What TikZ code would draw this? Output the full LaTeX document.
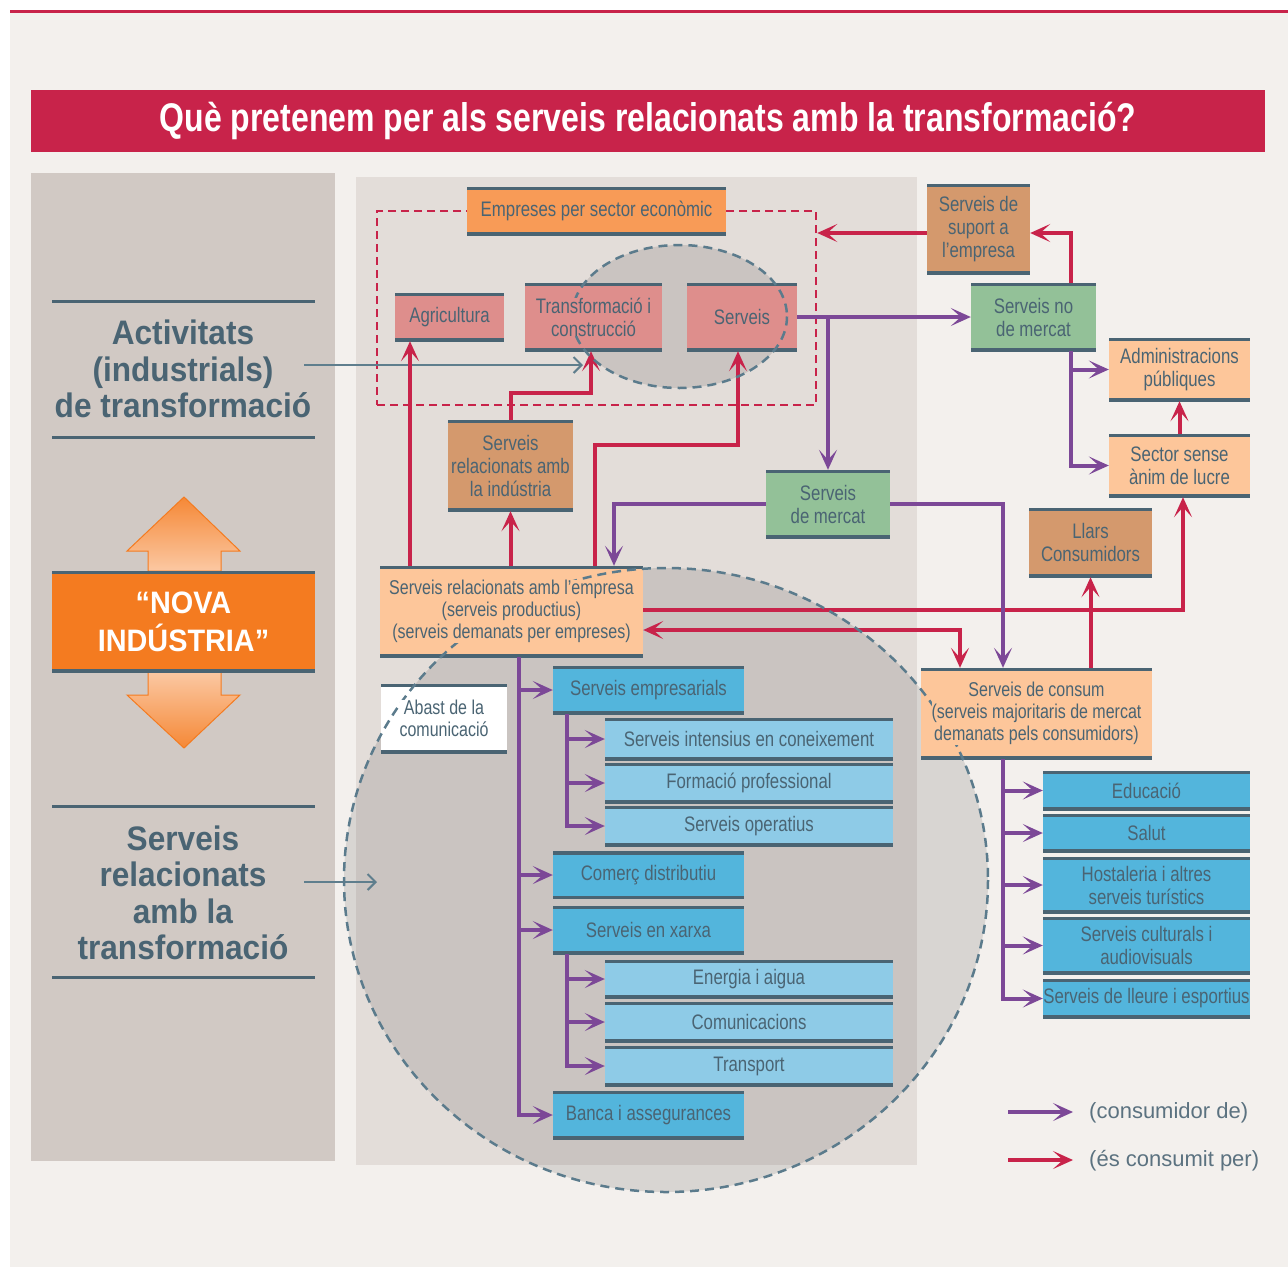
\documentclass[tikz,border=0pt]{standalone}
\usepackage{fontspec}
\setmainfont{Liberation Sans}
\newfontfamily\cond{Liberation Sans}[FakeStretch=0.8]
\newfontfamily\condb{Liberation Sans}[FakeStretch=0.93]
\usetikzlibrary{arrows.meta,calc}
\definecolor{bgc}{HTML}{F3F0ED}
\definecolor{redc}{HTML}{C8234A}
\definecolor{purp}{HTML}{7C4897}
\definecolor{slate}{HTML}{4A6473}
\definecolor{lpanel}{HTML}{D1C9C4}
\definecolor{mpanel}{HTML}{E3DDD9}
\definecolor{tanc}{HTML}{D4996D}
\definecolor{pinkc}{HTML}{DE8E8C}
\definecolor{orc}{HTML}{F89B57}
\definecolor{greenc}{HTML}{93C198}
\definecolor{peach}{HTML}{FDC69A}
\definecolor{bluec}{HTML}{53B5DC}
\definecolor{lblue}{HTML}{8ECBE7}
\definecolor{novac}{HTML}{F47B20}
\definecolor{dashc}{HTML}{5B7B8C}
\definecolor{greyar}{HTML}{5F7E8D}
\definecolor{legt}{HTML}{5B7280}
\tikzset{
  bx/.style={fill=#1, inner sep=0pt, align=center, text=slate,
    font=\cond\fontsize{21}{23}\selectfont,
    path picture={\draw[slate, line width=6pt]
      (path picture bounding box.north west) -- (path picture bounding box.north east)
      (path picture bounding box.south west) -- (path picture bounding box.south east);}},
  tx/.style={fill=#1, inner sep=0pt, align=center, text=slate,
    font=\cond\fontsize{21}{23}\selectfont},
  tip/.style={-{Stealth[length=20pt,width=18pt,inset=10pt]}},
  pu/.style={draw=purp, line width=4pt, tip},
  rd/.style={draw=redc, line width=4pt, tip},
  gra/.style={draw=greyar, line width=2pt, -{Straight Barb[length=8pt,width=16pt,line width=2pt]}},
  circdash/.style={draw=dashc, line width=2.5pt, dash pattern=on 9pt off 6pt},
  lbl/.style={text=slate, align=center, inner sep=0pt, font=\condb\bfseries\fontsize{34}{36.5}\selectfont},
}
\begin{document}
\begin{tikzpicture}[x=1pt,y=-1pt]
\useasboundingbox (0,0) rectangle (1288,1267);
\fill[white] (0,0) rectangle (1288,1267);
\fill[bgc] (10,13) rectangle (1288,1267);
\fill[redc] (10,10) rectangle (1288,13);
% title
\node[fill=redc, minimum width=1234, minimum height=62, inner sep=0pt, text=white,
  font=\cond\bfseries\fontsize{40}{42}\selectfont] (title) at (648,121)
  {Què pretenem per als serveis relacionats amb la transformació?};
% panels
\fill[lpanel] (31,173) rectangle (335,1161);
\fill[mpanel] (356,177) rectangle (917,1165);
% circles (fill)
\fill[black, fill opacity=0.11] (666,880) ellipse [x radius=322, y radius=312];
\fill[black, fill opacity=0.11] (679.5,316.5) ellipse [x radius=107.5, y radius=71.5];
% red dashed frame
\node[draw=redc, line width=2.5pt, dash pattern=on 8pt off 5pt, minimum width=439, minimum height=194, inner sep=0pt] (frame) at (596.5,308) {};

% left panel
\draw[slate, line width=3pt] (52,301) -- (315,301) (52,437) -- (315,437);
\node[lbl] (act) at (183,369) {Activitats\\(industrials)\\de transformació};
\draw[slate, line width=3pt] (52,806) -- (315,806) (52,977) -- (315,977);
\node[lbl] (srt) at (183,893) {Serveis\\relacionats\\amb la\\transformació};
% double arrow
\shade[top color=novac!90, bottom color=orc!55!white, draw=novac, line width=1pt]
  (184,497) -- (240,551) -- (221,551) -- (221,571) -- (148,571) -- (148,551) -- (127,551) -- cycle;
\shade[top color=orc!55!white, bottom color=novac!90, draw=novac, line width=1pt]
  (148,672) -- (221,672) -- (221,695) -- (240,695) -- (184,748) -- (127,695) -- (148,695) -- cycle;
\node[bx=novac, minimum width=263, minimum height=101, text=white,
  font=\condb\bfseries\fontsize{31}{38}\selectfont] (nova) at (183.5,621.5) {“NOVA\\INDÚSTRIA”};

% boxes
\node[bx=orc, minimum width=259, minimum height=48] (emp) at (596.5,211) {Empreses per sector econòmic};
\node[bx=pinkc, minimum width=109, minimum height=48] (agr) at (449.5,317) {Agricultura};
\node[bx=pinkc, minimum width=137, minimum height=68] (tra) at (593.5,317) {};
\node[bx=pinkc, minimum width=110, minimum height=68] (ser) at (742,317) {Serveis};
\node[bx=tanc, minimum width=103, minimum height=90] (sup) at (978.5,229) {Serveis de\\suport a\\l’empresa};
\node[bx=greenc, minimum width=125, minimum height=68] (snm) at (1033.5,317) {Serveis no\\de mercat};
\node[bx=peach, minimum width=141, minimum height=63] (adm) at (1179.5,369.5) {Administracions\\públiques};
\node[bx=peach, minimum width=141, minimum height=63] (ssa) at (1179.5,465.5) {Sector sense\\ànim de lucre};
\node[bx=tanc, minimum width=125, minimum height=91] (sri) at (510.5,465.5) {Serveis\\relacionats amb\\la indústria};
\node[bx=greenc, minimum width=124, minimum height=68] (smc) at (828,504) {Serveis\\de mercat};
\node[bx=tanc, minimum width=123, minimum height=69] (llr) at (1090.5,542.5) {Llars\\Consumidors};
\node[bx=peach, minimum width=263, minimum height=91] (sre) at (511.5,611.5) {};
\node[bx=peach, minimum width=231, minimum height=91] (scn) at (1036.5,713.5) {};
\node[bx=white, minimum width=126, minimum height=69] (abs) at (444,718.5) {};
\node[bx=bluec, minimum width=191, minimum height=48] (semp) at (648.5,690) {Serveis empresarials};
\node[bx=lblue, minimum width=288, minimum height=42] (sic) at (749,739) {Serveis intensius en coneixement};
\node[bx=lblue, minimum width=288, minimum height=40] (sfp) at (749,783) {Formació professional};
\node[bx=lblue, minimum width=288, minimum height=40] (sop) at (749,826) {Serveis operatius};
\node[bx=bluec, minimum width=191, minimum height=47] (com) at (648.5,875) {Comerç distributiu};
\node[bx=bluec, minimum width=191, minimum height=48] (xar) at (648.5,930) {Serveis en xarxa};
\node[bx=lblue, minimum width=288, minimum height=38] (ene) at (749,979) {Energia i aigua};
\node[bx=lblue, minimum width=288, minimum height=40] (cmu) at (749,1022) {Comunicacions};
\node[bx=lblue, minimum width=288, minimum height=40] (trn) at (749,1066) {Transport};
\node[bx=bluec, minimum width=191, minimum height=48] (ban) at (648.5,1115) {Banca i assegurances};
\node[bx=bluec, minimum width=207, minimum height=39] (edu) at (1146.5,790.5) {Educació};
\node[bx=bluec, minimum width=207, minimum height=38] (sal) at (1146.5,833) {Salut};
\node[bx=bluec, minimum width=207, minimum height=56] (hos) at (1146.5,885) {Hostaleria i altres\\serveis turístics};
\node[bx=bluec, minimum width=207, minimum height=57] (cul) at (1146.5,945.5) {Serveis culturals i\\audiovisuals};
\node[bx=bluec, minimum width=207, minimum height=39] (lle) at (1146.5,998.5) {Serveis de lleure i esportius};

% grey pointers from left panel
\coordinate (ga1) at (304,365); \coordinate (ga1e) at (583,365);
\coordinate (ga2) at (304,882); \coordinate (ga2e) at (377,882);
\draw[gra] (ga1) -- (ga1e);
\draw[gra] (ga2) -- (ga2e);

% red connectors
\draw[rd] ([xshift=-101.5pt]sre.north) -- ([xshift=-101.5pt]sre.north |- agr.south);
\draw[rd] (sri.south |- sre.north) -- (sri.south);
\draw[rd] (sri.north) |- ($(tra.south)+(-2.5,42)$) -- ([xshift=-2.5pt]tra.south);
\draw[rd] ([xshift=83.5pt]sre.north) |- ($(ser.south)+(-4,94)$) -- ([xshift=-4pt]ser.south);
\draw[rd] ([xshift=37.5pt]snm.north) |- ([yshift=-4pt]sup.east);
\draw[rd] ([yshift=-4pt]sup.west) -- ([yshift=-4pt]sup.west -| frame.east);
\draw[rd] ([yshift=1.5pt]sre.east) -| ([xshift=3.5pt]ssa.south);
\draw[rd, {Stealth[length=20pt,width=18pt,inset=10pt]}-{Stealth[length=20pt,width=18pt,inset=10pt]}]
  ([yshift=-18.5pt]sre.east) -| ([xshift=-76.5pt]scn.north);
\draw[rd] (llr.south |- scn.north) -- (llr.south);
\draw[rd] (ssa.north) -- (adm.south);

% purple connectors
\draw[pu] (ser.east) -- (snm.west);
\draw[pu] (ser.east -| smc.north) -- (smc.north);
\draw[pu] (smc.west) -| ([xshift=102.5pt]sre.north);
\draw[pu] (smc.east) -| ([xshift=-33.5pt]scn.north);
\draw[pu] ([xshift=37.5pt]snm.south) |- (ssa.west);
\draw[pu] ([xshift=37.5pt]snm.south |- adm.west) -- (adm.west);
% SRE tree
\draw[pu] ([xshift=7.5pt]sre.south) |- (ban.west);
\draw[pu] ([xshift=7.5pt]sre.south |- semp.west) -- (semp.west);
\draw[pu] ([xshift=7.5pt]sre.south |- com.west) -- (com.west);
\draw[pu] ([xshift=7.5pt]sre.south |- xar.west) -- (xar.west);
% Serveis empresarials tree
\draw[pu] ([xshift=-81.5pt]semp.south) |- (sop.west);
\draw[pu] ([xshift=-81.5pt]semp.south |- sic.west) -- (sic.west);
\draw[pu] ([xshift=-81.5pt]semp.south |- sfp.west) -- (sfp.west);
% Serveis en xarxa tree
\draw[pu] ([xshift=-81.5pt]xar.south) |- (trn.west);
\draw[pu] ([xshift=-81.5pt]xar.south |- ene.west) -- (ene.west);
\draw[pu] ([xshift=-81.5pt]xar.south |- cmu.west) -- (cmu.west);
% Serveis de consum tree
\draw[pu] ([xshift=-33.5pt]scn.south) |- (lle.west);
\draw[pu] ([xshift=-33.5pt]scn.south |- edu.west) -- (edu.west);
\draw[pu] ([xshift=-33.5pt]scn.south |- sal.west) -- (sal.west);
\draw[pu] ([xshift=-33.5pt]scn.south |- hos.west) -- (hos.west);
\draw[pu] ([xshift=-33.5pt]scn.south |- cul.west) -- (cul.west);

% dashed outlines on top
\draw[circdash] (666,880) ellipse [x radius=322, y radius=312];
\draw[circdash] (679.5,316.5) ellipse [x radius=107.5, y radius=71.5];

% box texts with opaque background (hide the dashed outlines behind the text)
\node[tx=pinkc] (tratxt) at (tra) {Transformació i\\construcció};
\node[tx=peach, font=\cond\fontsize{20}{22}\selectfont] (sretxt) at (sre)
  {Serveis relacionats amb l’empresa\\(serveis productius)\\(serveis demanats per empreses)};
\node[tx=peach, font=\cond\fontsize{20}{22}\selectfont] (scntxt) at (scn)
  {Serveis de consum\\(serveis majoritaris de mercat\\demanats pels consumidors)};
\node[tx=white, font=\cond\fontsize{20}{22}\selectfont] (abstxt) at (abs) {Abast de la\\comunicació};

% legend
\coordinate (lg1a) at (1008,1112); \coordinate (lg1b) at (1073,1112);
\coordinate (lg2a) at (1008,1160); \coordinate (lg2b) at (1073,1160);
\draw[pu] (lg1a) -- (lg1b);
\draw[rd] (lg2a) -- (lg2b);
\node[anchor=west, text=legt, inner sep=0pt, font=\fontsize{22}{24}\selectfont] (lgt1) at (1089,1113) {(consumidor de)};
\node[anchor=west, text=legt, inner sep=0pt, font=\fontsize{22}{24}\selectfont] (lgt2) at (1089,1161) {(és consumit per)};
\end{tikzpicture}
\end{document}
